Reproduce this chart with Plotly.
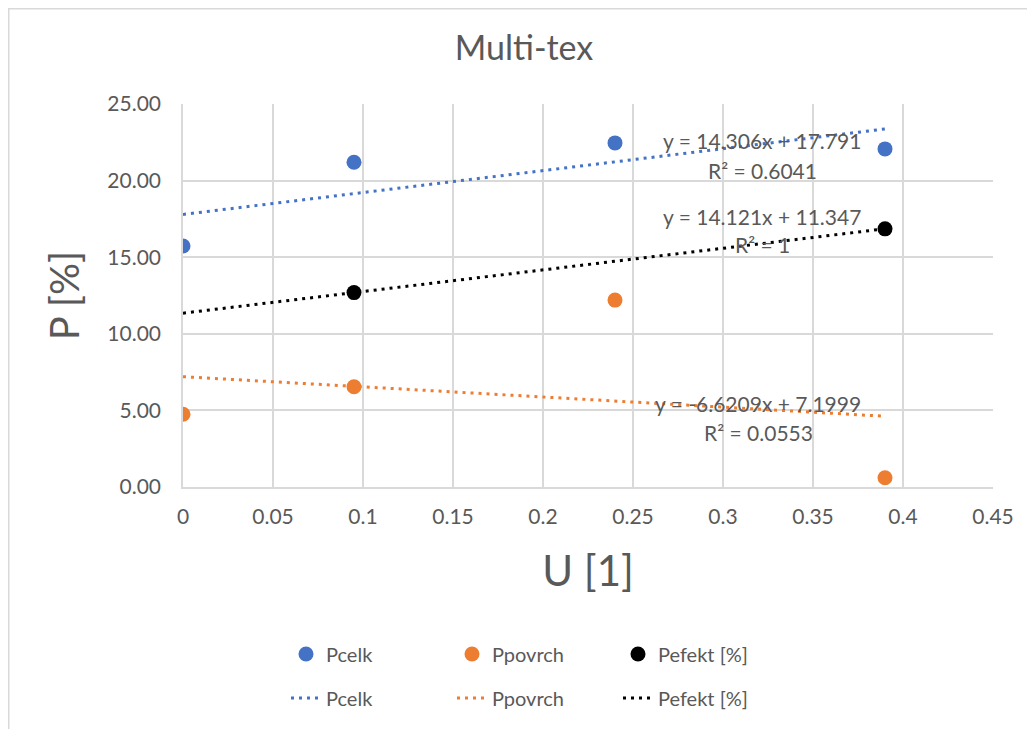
import plotly.graph_objects as go

# ---- data ----
series_names = ["Pcelk", "Ppovrch", "Pefekt [%]"]
pcelk_x = [0.0, 0.095, 0.24, 0.39]
pcelk_y = [15.73, 21.2, 22.46, 22.07]
ppovrch_x = [0.0, 0.095, 0.24, 0.39]
ppovrch_y = [4.75, 6.54, 12.2, 0.6]
pefekt_x = [0.095, 0.39]
pefekt_y = [12.69, 16.85]

trend_slope = [14.306, -6.6209, 14.121]
trend_intercept = [17.791, 7.1999, 11.347]
trend_r2 = ["0.6041", "0.0553", "1"]
trend_x_range = [0.0, 0.39]

x_tick_vals = [0, 0.05, 0.1, 0.15, 0.2, 0.25, 0.3, 0.35, 0.4, 0.45]
x_tick_text = ["0", "0.05", "0.1", "0.15", "0.2", "0.25", "0.3", "0.35", "0.4", "0.45"]
y_tick_vals = [0, 5, 10, 15, 20, 25]

colors = ["#4472C4", "#ED7D31", "#000000"]
FONT = "Lato"
GRAY = "#595959"

OFF = 8  # page body margin
W, H = 1035 - OFF, 729 - OFF
# plot area in page pixels
PL, PR, PT, PB = 183, 993, 104, 487
L, R, T, B = PL - OFF, PR - OFF, PT - OFF, PB - OFF


def px2paper_x(px):
    return (px - PL) / (PR - PL)


def px2paper_y(py):
    return (PB - py) / (PB - PT)


fig = go.Figure()

xs = [pcelk_x, ppovrch_x, pefekt_x]
ys = [pcelk_y, ppovrch_y, pefekt_y]

for i in range(3):
    fig.add_trace(go.Scatter(
        x=xs[i], y=ys[i], mode="markers", name=series_names[i],
        marker=dict(color=colors[i], size=15, line=dict(width=0)),
        legend="legend",
    ))

for i in range(3):
    ty = [trend_slope[i] * x + trend_intercept[i] for x in trend_x_range]
    fig.add_trace(go.Scatter(
        x=trend_x_range, y=ty, mode="lines", name=series_names[i],
        line=dict(color=colors[i], width=3, dash="3px,5px"),
        legend="legend2",
    ))


def fmt_eq(s, b):
    sign = "+" if b >= 0 else "-"
    return f"y = {s:g}x {sign} {abs(b):g}"


label_pos = [(762, 140, 170), (758, 403, 432), (762, 216, 245)]
annotations = []
for i in range(3):
    cx, y1, y2 = label_pos[i]
    annotations.append(dict(
        x=px2paper_x(cx), y=px2paper_y(y1), xref="paper", yref="paper",
        text=fmt_eq(trend_slope[i], trend_intercept[i]), showarrow=False,
        font=dict(family=FONT, size=21, color=GRAY), xanchor="center", yanchor="middle"))
    annotations.append(dict(
        x=px2paper_x(cx), y=px2paper_y(y2), xref="paper", yref="paper",
        text=f"R² = {trend_r2[i]}", showarrow=False,
        font=dict(family=FONT, size=21, color=GRAY), xanchor="center", yanchor="middle"))

fig.update_layout(
    width=W, height=H,
    margin=dict(l=L, r=W - R, t=T, b=H - B),
    paper_bgcolor="white", plot_bgcolor="white",
    font=dict(family=FONT, color=GRAY),
    title=dict(text="Multi-tex", x=(524 - OFF) / W, xanchor="center",
               y=1 - (48 - OFF) / H, yanchor="middle",
               font=dict(family=FONT, size=34, color=GRAY)),
    xaxis=dict(range=[0, 0.45], tickvals=x_tick_vals, ticktext=x_tick_text,
               showgrid=True, gridcolor="#D9D9D9", gridwidth=1.5,
               showline=True, linecolor="#D9D9D9", linewidth=1.5, mirror=False,
               zeroline=False, ticks="", ticklabelstandoff=10,
               tickfont=dict(family=FONT, size=21, color=GRAY),
               title=dict(text="U [1]", font=dict(family=FONT, size=42, color=GRAY), standoff=30)),
    yaxis=dict(range=[0, 25], tickvals=y_tick_vals, tickformat=".2f",
               showgrid=True, gridcolor="#D9D9D9", gridwidth=1.5,
               showline=True, linecolor="#D9D9D9", linewidth=1.5,
               zeroline=False, ticks="", ticklabelstandoff=16,
               tickfont=dict(family=FONT, size=21, color=GRAY),
               title=dict(text="P [%]", font=dict(family=FONT, size=40, color=GRAY), standoff=15)),
    legend=dict(orientation="h", xref="container", yref="container",
                x=278 / W, xanchor="left", y=1 - (654 - OFF) / H, yanchor="middle",
                entrywidth=121, entrywidthmode="pixels",
                font=dict(family=FONT, size=20, color=GRAY), bgcolor="rgba(0,0,0,0)"),
    legend2=dict(orientation="h", xref="container", yref="container",
                 x=278 / W, xanchor="left", y=1 - (698 - OFF) / H, yanchor="middle",
                 entrywidth=121, entrywidthmode="pixels",
                 font=dict(family=FONT, size=20, color=GRAY), bgcolor="rgba(0,0,0,0)"),
    annotations=annotations,
    showlegend=True,
    shapes=[dict(type="rect", xref="paper", yref="paper",
                 x0=px2paper_x(OFF + 0.75), x1=px2paper_x(1060), y0=px2paper_y(760),
                 y1=px2paper_y(OFF + 0.75),
                 line=dict(color="#D9D9D9", width=1.5), fillcolor="rgba(0,0,0,0)", layer="below")],
)

fig.write_html("out.html")
